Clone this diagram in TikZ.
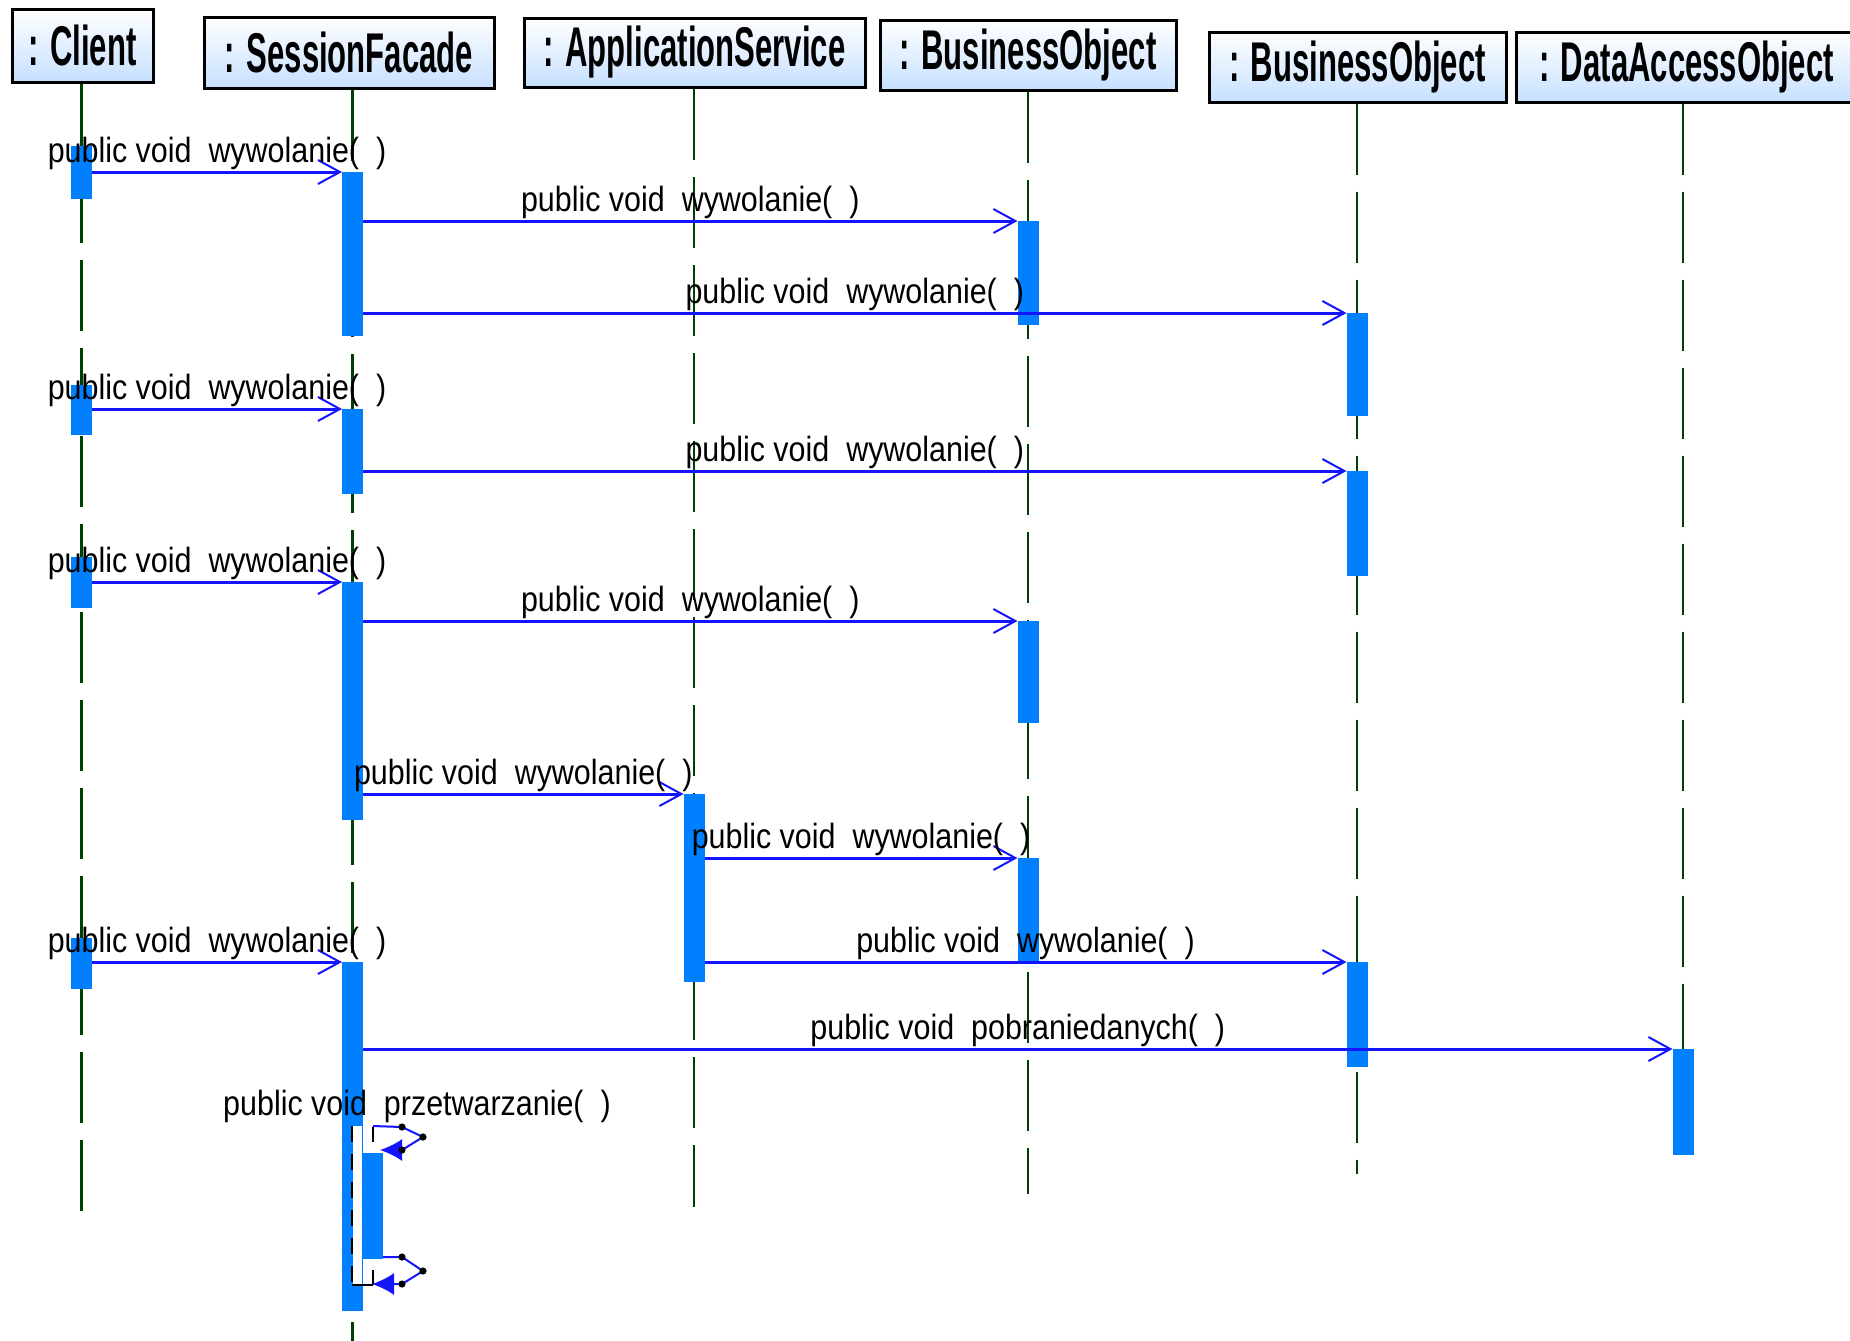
\documentclass[tikz,border=0pt]{standalone}
\usepackage{fontspec}
\usetikzlibrary{arrows.meta}
\newfontfamily\headfont{Liberation Sans}[FakeStretch=0.555]
\newfontfamily\msgfont{Liberation Sans}[FakeStretch=0.87]
\definecolor{actblue}{RGB}{0,128,255}
\definecolor{msgblue}{RGB}{20,20,255}
\definecolor{lifegreen}{RGB}{0,64,0}
\definecolor{headblue}{RGB}{198,224,255}

% activation bar: name, x, top y, bottom y
\newcommand\actbar[4]{\node[act, anchor=north, minimum height={(#4-#3)*0.5pt}] (#1) at (#2,#3) {};}
% synchronous message: sender bar, receiver bar, label
\newcommand\callmsg[3]{\draw[msg] (#1.east |- #2.north) -- node[lbl] {#3} (#2.north west);}
\newcommand\wyw{public void\ \ wywolanie(\ \ )}

\begin{document}
\begin{tikzpicture}[x=0.5pt, y=-0.5pt,
  head/.style={draw=black, line width=1.5pt, top color=white, bottom color=headblue,
    inner sep=0pt, font=\headfont\bfseries\fontsize{28}{30}\selectfont},
  life/.style={draw=lifegreen, line width=1.2pt, dash pattern=on 35.5pt off 8.5pt},
  act/.style={fill=actblue, draw=none, minimum width=10.5pt, inner sep=0pt, outer sep=0pt},
  msg/.style={draw=msgblue, line width=1.5pt,
    -{Straight Barb[length=11pt,width=12pt,line width=1pt]}},
  lbl/.style={font=\msgfont\fontsize{17.5}{20}\selectfont, anchor=base, yshift=5pt,
    inner sep=0pt, text=black},
  handle/.style={fill=black},
  selfmsg/.style={draw=msgblue, line width=1pt, -{Latex[length=11pt,width=11pt]}}]

\useasboundingbox (0,0) rectangle (1850,1340);

% object heads
\node[head, minimum width=70.5pt, minimum height=36.5pt] (hC)   at (82.5,45.5)  {: Client};
\node[head, minimum width=145pt,  minimum height=35.5pt] (hSF)  at (349,52.5)   {: SessionFacade};
\node[head, minimum width=170.5pt,minimum height=34.5pt] (hAS)  at (694.5,52.5) {: ApplicationService};
\node[head, minimum width=148pt,  minimum height=35pt]   (hBO1) at (1028,55)    {: BusinessObject};
\node[head, minimum width=148.5pt,minimum height=35pt]   (hBO2) at (1357.5,67)  {: BusinessObject};
\node[head, minimum width=170.5pt,minimum height=35pt]   (hDAO) at (1686.5,67)  {: DataAccessObject};

% lifeline ends
\coordinate (eC)   at (81.5,1212);
\coordinate (eSF)  at (352.5,1345);
\coordinate (eAS)  at (694,1207);
\coordinate (eBO1) at (1028,1194);
\coordinate (eBO2) at (1357,1174);
\coordinate (eDAO) at (1683,1155);

% lifelines
\draw[life] (hC.south -| eC)     -- (eC);
\draw[life] (hSF.south -| eSF)   -- (eSF);
\draw[life] (hAS.south -| eAS)   -- (eAS);
\draw[life] (hBO1.south -| eBO1) -- (eBO1);
\draw[life] (hBO2.south -| eBO2) -- (eBO2);
\draw[life] (hDAO.south -| eDAO) -- (eDAO);

% activation bars
\actbar{c1}{81.5}{146}{199}
\actbar{c2}{81.5}{385}{435}
\actbar{c3}{81.5}{557}{608}
\actbar{c4}{81.5}{938}{989}
\actbar{s1}{352.5}{172}{336}
\actbar{s2}{352.5}{409}{494}
\actbar{s3}{352.5}{582}{820}
\actbar{s4}{352.5}{962}{1311}
\actbar{as1}{694}{794}{982}
\actbar{b1}{1028}{221}{325}
\actbar{b2}{1028}{621}{723}
\actbar{b3}{1028}{858}{962}
\actbar{d1}{1357}{313}{416}
\actbar{d2}{1357}{471}{576}
\actbar{d3}{1357}{962}{1067}
\actbar{e1}{1683}{1049}{1155}

% messages
\callmsg{c1}{s1}{\wyw}
\callmsg{s1}{b1}{\wyw}
\callmsg{s1}{d1}{\wyw}
\callmsg{c2}{s2}{\wyw}
\callmsg{s2}{d2}{\wyw}
\callmsg{c3}{s3}{\wyw}
\callmsg{s3}{b2}{\wyw}
\callmsg{s3}{as1}{\wyw}
\callmsg{as1}{b3}{\wyw}
\callmsg{as1}{d3}{\wyw}
\callmsg{c4}{s4}{\wyw}
\callmsg{s4}{e1}{public void\ \ pobraniedanych(\ \ )}

% self call on the session facade
\fill[white] (353,1126) rectangle (362,1285);
\actbar{sa}{372.5}{1153}{1259}
\draw[black, line width=1pt, dash pattern=on 8pt off 6pt] (352,1126) -- (352,1285);
\draw[black, line width=1.2pt] (352,1285) -- (373,1285);
\draw[black, line width=1pt] (373,1127) -- (373,1142);
\draw[black, line width=1pt] (373,1270) -- (373,1285);

\coordinate (t0) at (373,1126);
\coordinate (t1) at (402,1127);
\coordinate (t2) at (423,1137);
\coordinate (t3) at (402,1150);
\coordinate (t4) at (380,1150);
\draw[selfmsg] (t0) -- (t1) -- (t2) -- (t3) -- (t4);

\coordinate (r0) at (383,1257);
\coordinate (r1) at (402,1257);
\coordinate (r2) at (423,1271);
\coordinate (r3) at (402,1284);
\coordinate (r4) at (372,1284);
\draw[selfmsg] (r0) -- (r1) -- (r2) -- (r3) -- (r4);

\foreach \p in {t1,t2,t3,r1,r2,r3} \fill[handle] (\p) circle (1.8pt);

\node[lbl, yshift=0pt] (selflbl) at (417,1125) {public void\ \ przetwarzanie(\ \ )};

\end{tikzpicture}
\end{document}
